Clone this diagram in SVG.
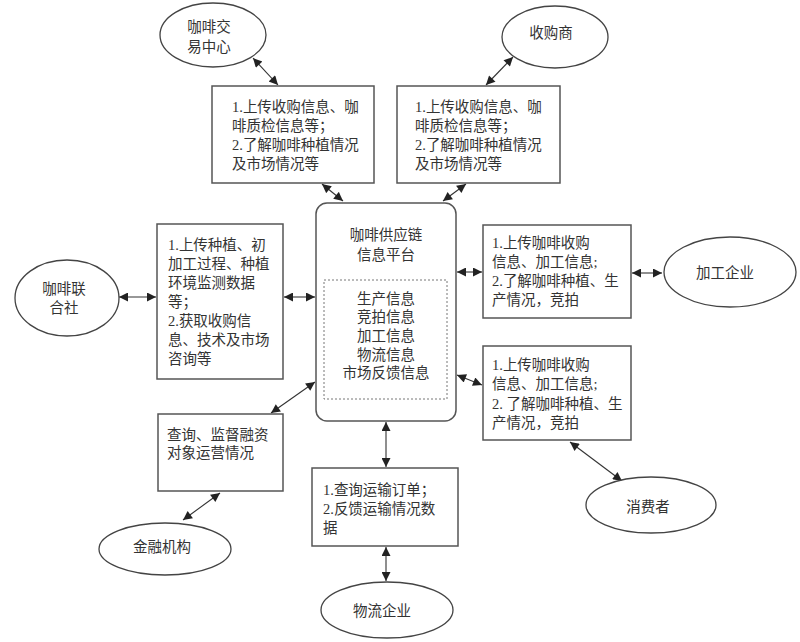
<svg xmlns="http://www.w3.org/2000/svg" width="800" height="642" viewBox="0 0 800 642">
<defs>
<style>
.t{font-family:"Liberation Serif","Noto Sans CJK SC",serif;font-size:14.5px;fill:#333}
.c{text-anchor:middle}
.box{fill:#fff;stroke:#555;stroke-width:1.5}
.ell{fill:#fff;stroke:#444;stroke-width:1.3}
.ln{stroke:#333;stroke-width:1.1;fill:none;marker-start:url(#ah);marker-end:url(#ah)}
</style>
<marker id="ah" viewBox="0 0 10 10" refX="10" refY="5" markerWidth="11" markerHeight="9" markerUnits="userSpaceOnUse" orient="auto-start-reverse">
<path d="M0,0 L10,5 L0,10 z" fill="#222"/>
</marker>
</defs>
<rect width="800" height="642" fill="#fff"/>

<g id="connectors">
<line class="ln" x1="253" y1="58" x2="278" y2="85"/>
<line class="ln" x1="322" y1="184" x2="343" y2="201"/>
<line class="ln" x1="513" y1="57" x2="486" y2="85"/>
<line class="ln" x1="466" y1="184" x2="443" y2="201"/>
<line class="ln" x1="119" y1="297" x2="156" y2="297"/>
<line class="ln" x1="284" y1="297" x2="315" y2="297"/>
<line class="ln" x1="457" y1="272" x2="482" y2="272"/>
<line class="ln" x1="632" y1="273" x2="662" y2="273"/>
<line class="ln" x1="457" y1="375" x2="482" y2="385"/>
<line class="ln" x1="570" y1="442" x2="622" y2="481"/>
<line class="ln" x1="315" y1="382" x2="271" y2="413"/>
<line class="ln" x1="220" y1="493" x2="183" y2="520"/>
<line class="ln" x1="386" y1="422" x2="386" y2="467"/>
<line class="ln" x1="386" y1="547" x2="386" y2="581"/>
</g>

<g id="n-trade">
<ellipse class="ell" cx="213" cy="35" rx="53" ry="32"/>
<text class="t c" x="209" y="32">咖啡交</text>
<text class="t c" x="209" y="52">易中心</text>
</g>

<g id="n-buyer">
<ellipse class="ell" cx="555" cy="37" rx="53" ry="31"/>
<text class="t c" x="551" y="38">收购商</text>
</g>

<g id="b-trade">
<rect class="box" x="212" y="86" width="162" height="97"/>
<text class="t" x="232" y="112">1.上传收购信息、咖</text>
<text class="t" x="232" y="131">啡质检信息等；</text>
<text class="t" x="232" y="150">2.了解咖啡种植情况</text>
<text class="t" x="232" y="169">及市场情况等</text>
</g>

<g id="b-buyer">
<rect class="box" x="397" y="86" width="163" height="97"/>
<text class="t" x="415" y="112">1.上传收购信息、咖</text>
<text class="t" x="415" y="131">啡质检信息等；</text>
<text class="t" x="415" y="150">2.了解咖啡种植情况</text>
<text class="t" x="415" y="169">及市场情况等</text>
</g>

<g id="platform">
<rect class="box" x="316" y="203" width="140" height="218" rx="11"/>
<text class="t c" x="386" y="240">咖啡供应链</text>
<text class="t c" x="386" y="260">信息平台</text>
<rect x="324" y="280" width="123" height="119" fill="none" stroke="#777" stroke-width="1" stroke-dasharray="2,2"/>
<text class="t c" x="386" y="304">生产信息</text>
<text class="t c" x="386" y="322">竞拍信息</text>
<text class="t c" x="386" y="341">加工信息</text>
<text class="t c" x="386" y="360">物流信息</text>
<text class="t c" x="386" y="378">市场反馈信息</text>
</g>

<g id="n-coop">
<ellipse class="ell" cx="67" cy="298" rx="52" ry="38"/>
<text class="t c" x="64" y="294">咖啡联</text>
<text class="t c" x="64" y="313">合社</text>
</g>

<g id="b-coop">
<rect class="box" x="157" y="224" width="126" height="155"/>
<text class="t" x="168" y="250">1.上传种植、初</text>
<text class="t" x="168" y="269">加工过程、种植</text>
<text class="t" x="168" y="288">环境监测数据</text>
<text class="t" x="168" y="307">等；</text>
<text class="t" x="168" y="326">2.获取收购信</text>
<text class="t" x="168" y="345">息、技术及市场</text>
<text class="t" x="168" y="364">咨询等</text>
</g>

<g id="b-process">
<rect class="box" x="483" y="225" width="148" height="93"/>
<text class="t" x="492" y="248">1.上传咖啡收购</text>
<text class="t" x="492" y="267">信息、加工信息;</text>
<text class="t" x="492" y="286">2.了解咖啡种植、生</text>
<text class="t" x="492" y="305">产情况，竞拍</text>
</g>

<g id="n-process">
<ellipse class="ell" cx="730" cy="272" rx="66" ry="35"/>
<text class="t c" x="725" y="278">加工企业</text>
</g>

<g id="b-consumer">
<rect class="box" x="483" y="346" width="148" height="94"/>
<text class="t" x="492" y="370">1.上传咖啡收购</text>
<text class="t" x="492" y="389">信息、加工信息;</text>
<text class="t" x="492" y="409">2. 了解咖啡种植、生</text>
<text class="t" x="492" y="428">产情况，竞拍</text>
</g>

<g id="n-consumer">
<ellipse class="ell" cx="651" cy="505" rx="65" ry="28"/>
<text class="t c" x="648" y="512">消费者</text>
</g>

<g id="b-finance">
<rect class="box" x="158" y="414" width="125" height="77"/>
<text class="t" x="167" y="440">查询、监督融资</text>
<text class="t" x="167" y="458">对象运营情况</text>
</g>

<g id="n-finance">
<ellipse class="ell" cx="165" cy="549" rx="66" ry="26"/>
<text class="t c" x="162" y="552">金融机构</text>
</g>

<g id="b-logistics">
<rect class="box" x="312" y="468" width="146" height="78"/>
<text class="t" x="323" y="495">1.查询运输订单；</text>
<text class="t" x="323" y="514">2.反馈运输情况数</text>
<text class="t" x="323" y="533">据</text>
</g>

<g id="n-logistics">
<ellipse class="ell" cx="387" cy="610" rx="66" ry="28"/>
<text class="t c" x="382" y="616">物流企业</text>
</g>
</svg>
